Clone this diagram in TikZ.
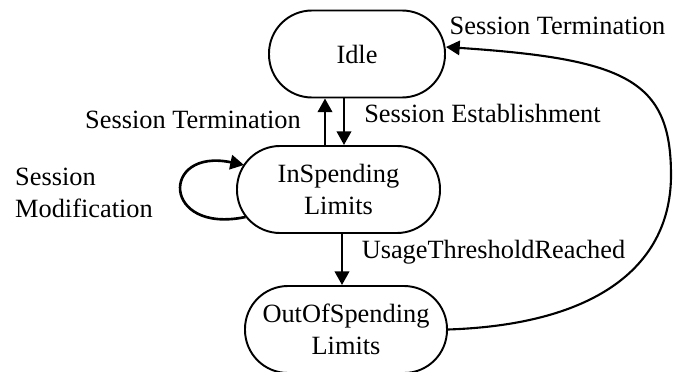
\documentclass[tikz,border=0pt]{standalone}
\usepackage{fontspec}
\setmainfont{Liberation Serif}
\usetikzlibrary{arrows.meta}

\begin{document}
\begin{tikzpicture}[
    font=\fontsize{15}{18.5}\selectfont,
    state/.style={rectangle, draw, line width=1.1pt, rounded corners=0.86cm, minimum height=1.74cm, align=center, inner sep=0pt},
    trans/.style={->, line width=1.5pt},
    >={Triangle[length=7.8pt, width=8.2pt]}
]
    \useasboundingbox (-7.14,1.08) rectangle (6.32,-6.34);

    \node[state, minimum width=3.52cm] (idle) at (0,0) {Idle};
    \node[state, minimum width=4.06cm, xshift=-0.37cm, yshift=-2.71cm] (insp) at (idle) {InSpending\\Limits};
    \node[state, minimum width=4.04cm, xshift=0.15cm, yshift=-2.8cm] (outof) at (insp) {OutOfSpending\\Limits};

    \node[xshift=4.01cm, yshift=0.56cm] (term_r) at (idle) {Session Termination};
    \node[xshift=-3.28cm, yshift=-1.32cm] (term_l) at (idle) {Session Termination};
    \node[xshift=2.51cm, yshift=-1.18cm] (estab) at (idle) {Session Establishment};
    \node[xshift=-5.09cm, yshift=-0.07cm, align=left] (modif) at (insp) {Session\\Modification};
    \node[xshift=3.1cm, yshift=-1.25cm] (usage) at (insp) {UsageThresholdReached};

    \coordinate[xshift=6.28cm, yshift=-2.42cm] (bend) at (idle);

    \draw[trans] ([xshift=-0.27cm]insp.north) -- ([xshift=-0.27cm]insp.north |- idle.south);
    \draw[trans] ([xshift=0.11cm]insp.north |- idle.south) -- ([xshift=0.11cm]insp.north);
    \draw[trans] ([xshift=0.07cm]insp.south) -- ([xshift=0.07cm]insp.south |- outof.north);
    \draw[trans] ([xshift=0.19cm, yshift=-0.55cm]insp.west) .. controls +(-1.68,-0.35) and +(-1.68,0.35) .. ([xshift=0.16cm, yshift=0.49cm]insp.west);
    \draw[trans, line width=1.2pt] (outof.east) .. controls +(3.0,0.1) and +(0,-1.8) .. (bend) .. controls +(0,1.9) and +(3.6,-0.24) .. ([yshift=0.14cm]idle.east);
\end{tikzpicture}
\end{document}
